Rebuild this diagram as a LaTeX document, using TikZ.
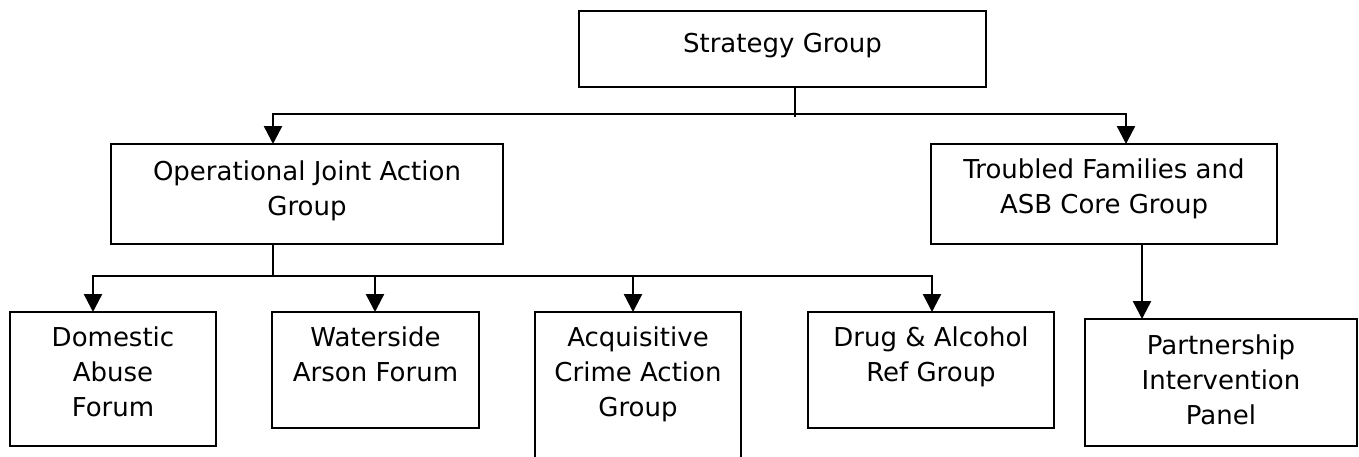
\documentclass[tikz,border=0pt]{standalone}
\usepackage{fontspec}
\setmainfont{DejaVu Sans}
\usetikzlibrary{arrows.meta}
\begin{document}
\begin{tikzpicture}[x=1pt,y=-1pt,
  box/.style={draw, line width=2pt, rectangle, inner sep=0pt, outer sep=0pt},
  lbl/.style={anchor=north, inner sep=0pt, outer sep=0pt, align=center,
              font=\fontsize{26}{35}\selectfont, execute at begin node={\strut}},
  ln/.style={line width=2.2pt, line cap=rect},
  arr/.style={line width=2.4pt, -{Triangle[width=18pt,length=18pt]}}]
\clip (0,0) rectangle (1359,456);
\fill[white] (0,0) rectangle (1359,456);
% boxes
\node[box, minimum width=407pt, minimum height=76pt]  (sg) at (782.5,49) {};
\node[box, minimum width=392pt, minimum height=100pt] (oj) at (307,194) {};
\node[box, minimum width=346pt, minimum height=100pt] (tf) at (1104,194) {};
\node[box, minimum width=206pt, minimum height=134pt] (da) at (113,379) {};
\node[box, minimum width=207pt, minimum height=116pt] (wa) at (375.5,370) {};
\node[box, minimum width=206pt, minimum height=176pt] (ac) at (638,400) {};
\node[box, minimum width=246pt, minimum height=116pt] (dr) at (931,370) {};
\node[box, minimum width=272pt, minimum height=127pt] (pa) at (1221,382.5) {};
% labels
\node[lbl] (sgt) at (782.5,28) {Strategy Group};
\node[lbl] (ojt) at (307,161) {Operational Joint Action\\Group};
\node[lbl] (tft) at (1104,159) {Troubled Families and\\ASB Core Group};
\node[lbl] (dat) at (113,327) {Domestic\\Abuse\\Forum};
\node[lbl] (wat) at (375.5,327) {Waterside\\Arson Forum};
\node[lbl] (act) at (638,327) {Acquisitive\\Crime Action\\Group};
\node[lbl] (drt) at (931,327) {Drug \& Alcohol\\Ref Group};
\node[lbl] (pat) at (1221,335) {Partnership\\Intervention\\Panel};
% connectors, top level
\coordinate (sd) at (795,116);
\coordinate (l1) at (273,114);
\coordinate (r1) at (1126,114);
\draw[ln] (sd |- sg.south) -- (sd);
\draw[ln] (l1) -- (r1);
\draw[arr] (l1) -- (l1 |- oj.north);
\draw[arr] (r1) -- (r1 |- tf.north);
% connectors, second level
\coordinate (o2) at (273,276);
\coordinate (l2) at (93,276);
\coordinate (w2) at (375,276);
\coordinate (a2) at (633,276);
\coordinate (r2) at (932,276);
\draw[ln] (o2 |- oj.south) -- (o2);
\draw[ln] (l2) -- (r2);
\draw[arr] (l2) -- (l2 |- da.north);
\draw[arr] (w2) -- (w2 |- wa.north);
\draw[arr] (a2) -- (a2 |- ac.north);
\draw[arr] (r2) -- (r2 |- dr.north);
\coordinate (p1) at (1142,300);
\draw[arr] (p1 |- tf.south) -- (p1 |- pa.north);
\end{tikzpicture}
\end{document}
